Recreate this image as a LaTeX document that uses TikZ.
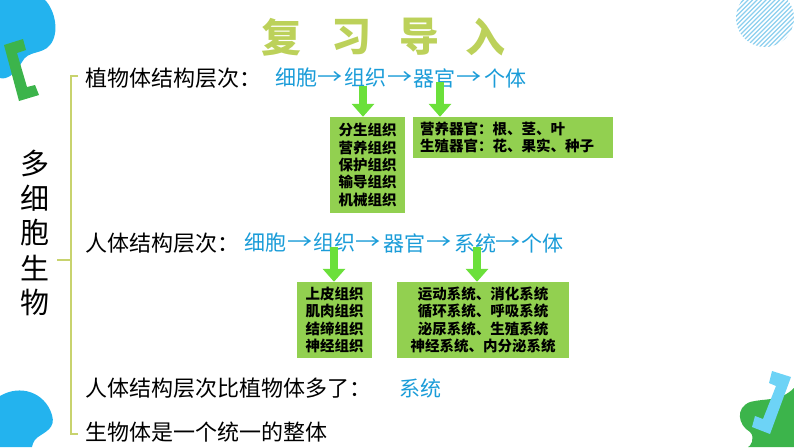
\documentclass[tikz,border=0pt]{standalone}
\usepackage{fontspec}
\setmainfont{Noto Sans CJK SC}
\usetikzlibrary{arrows.meta,calc}
\definecolor{titlegreen}{HTML}{BCD15A}
\definecolor{chainblue}{HTML}{1A9CD8}
\definecolor{boxgreen}{HTML}{92D050}
\definecolor{arrowgreen}{HTML}{6BE03A}
\definecolor{bracecol}{HTML}{C8D36E}
\definecolor{blobblue}{HTML}{23B3EE}
\definecolor{brkgreen}{HTML}{3CB44B}
\definecolor{brkblue}{HTML}{6DD3F6}
\definecolor{hatchblue}{HTML}{8CCFEE}
\newcommand{\longarr}{\scalebox{1.2}[1]{→}}
\begin{document}
\begin{tikzpicture}[x=1pt,y=-1pt,
 titlech/.style={text=titlegreen,font=\fontsize{40pt}{44pt}\selectfont\bfseries,inner sep=0},
 maintext/.style={anchor=west,inner sep=0,font=\fontsize{22pt}{26pt}\selectfont},
 chainw/.style={text=chainblue,inner sep=0,font=\fontsize{21pt}{25pt}\selectfont},
 infobox/.style={fill=boxgreen,inner sep=0,font=\fontsize{14.5pt}{17.4pt}\selectfont\bfseries},
 bigarrow/.style={draw=arrowgreen,line width=8pt,-{Triangle[width=22pt,length=13pt]}},
 bracestyle/.style={draw=bracecol,line width=2pt},
 sidech/.style={inner sep=0,font=\fontsize{29pt}{33pt}\selectfont}
]
\useasboundingbox (0,0) rectangle (794,447);
% decorations
\fill[blobblue] (0,0) -- (45,0) .. controls (55,10) and (60,33) .. (50,45)
  .. controls (42,55) and (28,50) .. (22,62) .. controls (15,75) and (6,80) .. (0,78) -- cycle;
\fill[brkgreen] (4,45) -- (23,39) -- (26,50) -- (17,53) -- (27,87) -- (35,85) -- (39,95) -- (19,101) -- cycle;
\fill[blobblue] (0,396) .. controls (20,384) and (45,392) .. (52,415)
  .. controls (56,428) and (45,432) .. (38,437) .. controls (33,440) and (32,447) .. (32,447) -- (0,447) -- cycle;
\fill[brkgreen] (794,388) .. controls (780,402) and (765,398) .. (750,402)
  .. controls (735,408) and (738,425) .. (750,432) .. controls (756,438) and (750,447) .. (748,447) -- (794,447) -- cycle;
\fill[brkblue] (772,371) -- (791,377) -- (770,434) -- (752,427) -- (755,416) -- (763,419) -- (776,386) -- (769,383) -- cycle;
\begin{scope}
\clip (765,18) circle (29);
\foreach \i in {-80,-75.5,...,80} \draw[hatchblue,line width=1.3pt] ({765+\i-45},63) -- ({765+\i+45},-27);
\end{scope}
% title
\node[titlech] (t1) at (281,37) {复};
\node[titlech] (t2) at (351,37) {习};
\node[titlech] (t3) at (419,37) {导};
\node[titlech] (t4) at (485,37) {入};
% brace
\coordinate (bt) at (71,76);
\coordinate (bb) at (71,434);
\coordinate (bm) at (71,260);
\draw[bracestyle] ($(bt)+(7,0)$) -- (bt) -- (bb) -- ($(bb)+(7,0)$);
\draw[bracestyle] (bm) -- (57,260);
% side text
\node[sidech] (s1) at (35,163) {多};
\node[sidech] (s2) at (35,198) {细};
\node[sidech] (s3) at (35,233) {胞};
\node[sidech] (s4) at (35,268) {生};
\node[sidech] (s5) at (35,302) {物};
% line 1
\node[maintext] (l1) at (85,78) {植物体结构层次：};
\node[chainw] (a1) at (296,78) {细胞};
\node[chainw] (ar1) at (330,78) {\longarr};
\node[chainw] (a2) at (365,78) {组织};
\node[chainw] (ar2) at (400,78) {\longarr};
\node[chainw] (a3) at (434,78) {器官};
\node[chainw] (ar3) at (469,78) {\longarr};
\node[chainw] (a4) at (505,78) {个体};
\node[infobox,text width=75pt,minimum height=96pt,align=center] (b1) at (367.5,165)
  {分生组织\\营养组织\\保护组织\\输导组织\\机械组织};
\node[infobox,text width=186pt,inner xsep=7pt,minimum height=41pt,align=left] (b2) at (513,137.5)
  {营养器官：根、茎、叶\\生殖器官：花、果实、种子};
\draw[bigarrow] ([xshift=-2pt,yshift=2pt]a2.south) -- ([xshift=-2pt]a2.south |- b1.north);
\draw[bigarrow] ([xshift=6pt,yshift=6pt]a3.south) -- ([xshift=6pt]a3.south |- b2.north);
% line 2
\node[maintext] (l2) at (85,243) {人体结构层次：};
\node[chainw] (c1) at (265,243) {细胞};
\node[chainw] (cr1) at (300,243) {\longarr};
\node[chainw] (c2) at (334,243) {组织};
\node[chainw] (cr2) at (368,243) {\longarr};
\node[chainw] (c3) at (404,243) {器官};
\node[chainw] (cr3) at (439,243) {\longarr};
\node[chainw] (c4) at (475,243) {系统};
\node[chainw] (cr4) at (508,243) {\longarr};
\node[chainw] (c5) at (542,243) {个体};
\node[infobox,text width=75pt,minimum height=76pt,align=center] (b3) at (334.5,320)
  {上皮组织\\肌肉组织\\结缔组织\\神经组织};
\node[infobox,text width=172pt,minimum height=76pt,align=center] (b4) at (483,320)
  {运动系统、消化系统\\循环系统、呼吸系统\\泌尿系统、生殖系统\\神经系统、内分泌系统};
\draw[bigarrow] ([yshift=6pt]c2.south) -- (c2.south |- b3.north);
\draw[bigarrow] ([xshift=2pt,yshift=6pt]c4.south) -- ([xshift=2pt]c4.south |- b4.north);
% line 3, 4
\node[maintext] (l3) at (85,388) {人体结构层次比植物体多了：};
\node[chainw] (d1) at (420,388) {系统};
\node[maintext] (l4) at (85,432) {生物体是一个统一的整体};
\end{tikzpicture}
\end{document}
